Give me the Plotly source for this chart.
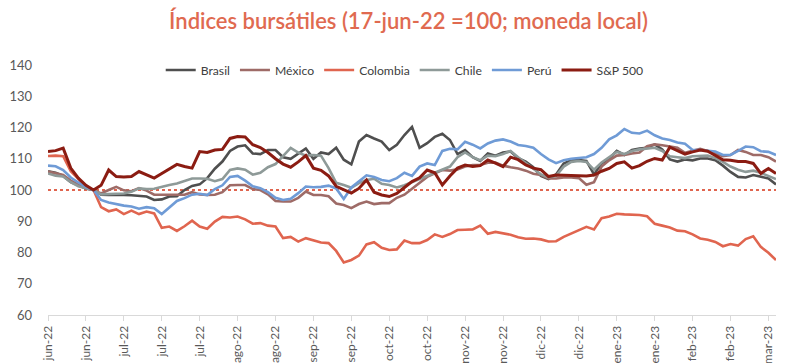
import pandas as pd
import plotly.graph_objects as go

# Fechas (cada 2 días hábiles desde 1-jun-22; 17-jun-22 = índice 6)
dates = [d.strftime("%Y-%m-%d") for d in pd.bdate_range("2022-06-01", periods=193)[::2]]

brasil = [106, 105.5, 104.5, 102.5, 101.5, 100.5, 100, 98.5, 98.4, 98.5,
          98.4, 98.3, 98.2, 97.9, 96.8, 97.0, 97.9, 98, 100, 101.3,
          101.8, 103.8, 106.8, 109.1, 112.5, 113.9, 114.3, 111.7, 111.5, 112.8,
          112.8, 110.5, 110, 111.7, 113.3, 110, 112, 111.5, 113.5, 109.7,
          108.2, 115.5, 117.6, 116.5, 115.5, 112.8, 114.5, 117.6, 120.2, 113.5,
          115, 117, 118, 116, 111.5, 112.8, 110.5, 109.3, 111.7, 111,
          112, 112.3, 110.2, 109.1, 107.3, 104.5, 103.5, 105, 108.5, 109.5,
          109.6, 109.3, 105, 108.5, 110, 112.5, 111.2, 112.8, 113.3, 113.5,
          114.6, 113, 109.8, 109.1, 109.8, 109.5, 110.1, 110.1, 109.5, 107.8,
          105.8, 104.2, 104, 104.8, 104.3, 103.7, 101.8]

mexico = [105.9, 105.3, 104.8, 103, 101.8, 100.5, 100, 98.9, 100, 101,
          99.9, 99.6, 100.6, 99.8, 98.5, 98.5, 98.3, 98.5, 98.5, 99.3,
          98.6, 98.4, 98.5, 99.3, 101.5, 101.6, 101.6, 100.3, 100, 98.6,
          96.5, 96.3, 96.3, 97.5, 99.5, 98.4, 98.4, 98, 95.7, 95.2,
          94.2, 95.5, 96.3, 95.5, 95.8, 95.8, 97.5, 98.5, 100.5, 102.2,
          104.2, 105.3, 106.4, 106.2, 106.6, 107.5, 108, 108, 108.7, 108.8,
          107.8, 107.3, 106.9, 106.2, 105.2, 104.8, 103.7, 103.7, 104, 104,
          103.8, 101.7, 102.5, 107.5, 109.5, 111, 111.2, 111.7, 112, 114,
          114.6, 114.3, 113.9, 113.5, 111.9, 112.5, 113.2, 112.5, 111.7, 110.8,
          111.2, 112.8, 112.2, 111.2, 111.2, 110.5, 109.1]

colombia = [110.9, 111, 110.8, 106, 103.6, 101, 100, 94.5, 93.2, 93.8,
            92.3, 93.4, 92.3, 93.1, 92.5, 87.9, 88.3, 86.9, 88.4, 90.2,
            88.3, 87.6, 89.9, 91.4, 91.2, 91.5, 90.6, 89.2, 89.4, 88.6,
            88.3, 84.6, 85, 83.5, 84.6, 84, 83.2, 83, 80.5, 76.8,
            77.6, 79, 82.6, 83.3, 81.5, 80.8, 81, 83.8, 83, 83,
            84, 85.8, 85, 85.9, 87.2, 87.3, 87.4, 88.6, 86, 86.6,
            86.2, 85.7, 84.9, 84.4, 84.5, 84.2, 83.5, 83.6, 85, 86.1,
            87, 88.2, 87.4, 91, 91.5, 92.4, 92.2, 92.1, 92, 91.6,
            89.2, 88.6, 88, 87, 86.8, 85.8, 84.5, 84.1, 83.4, 82,
            82.7, 82.2, 84.3, 85.2, 81.8, 79.9, 77.6]

chile = [105.3, 104.6, 104.3, 102.5, 101.2, 100.6, 100, 98.6, 98.6, 98.8,
         98.9, 99.4, 100.5, 100.3, 100.4, 101.1, 101.6, 102.1, 103, 103.7,
         103.7, 103.6, 102.8, 103.5, 106.4, 106.9, 106.5, 104.9, 105.5, 107.3,
         108.3, 111, 113.5, 112, 111, 111.2, 111, 107, 102.3, 101.6,
         100.7, 102.2, 103.2, 103.6, 102, 101.6, 100.8, 101.5, 102.5, 103.5,
         104.5, 105.5, 106.5, 107.5, 110.5, 112, 110.5, 109.5, 111, 110.8,
         111.5, 112.5, 110.5, 108.5, 106.8, 105, 104, 104.5, 107.5, 109,
         109.3, 109, 106.5, 108.8, 110.5, 112.2, 111.5, 112.5, 113, 113.2,
         113.5, 112.5, 110.8, 110.5, 110.2, 110.8, 111, 111, 110.2, 109,
         107.5, 106.5, 105.8, 106.2, 105.5, 104.5, 103.5]

peru = [107.8, 107.6, 106.4, 104, 102.4, 101, 100, 96.8, 96, 95.4,
        95, 94.7, 94, 94.5, 94.2, 92.3, 94.5, 96.5, 97.4, 98.5,
        98.8, 98.4, 100.3, 101.5, 104.2, 104.5, 103, 101.2, 100.6, 99.3,
        97.5, 96.8, 97.2, 99, 101.1, 100.9, 101, 101.4, 100.5, 97.1,
        100.8, 102.8, 104.7, 104.2, 103.2, 102.8, 103.8, 105.5, 104.5, 107.5,
        108.5, 108, 112.5, 113.2, 113, 115.4, 114.5, 113.3, 114.9, 115.8,
        116.2, 115.5, 114.4, 114.1, 113.5, 111.5, 109.8, 108.6, 109.5, 110,
        110.2, 110.5, 111.5, 113.5, 116.2, 117.5, 119.5, 118.3, 118.1, 119,
        117.5, 116.5, 116, 115.2, 114.8, 112.8, 112.8, 112.6, 112.3, 111.2,
        111.2, 112.5, 113.9, 113.7, 112.4, 112.2, 111.2]

sp500 = [112.3, 112.6, 113.4, 107, 103.8, 101.5, 100, 101.5, 106.4, 104.3,
         104.2, 104.3, 105.9, 104.8, 103.8, 105.3, 106.8, 108.2, 107.5, 107,
         112.3, 112, 112.8, 113, 116.5, 117.1, 117, 114.5, 113.6, 112,
         110, 108.3, 107.3, 109, 111, 107, 106.3, 104.5, 101.2, 100,
         99, 100.5, 103.2, 99.3, 98.4, 97.9, 98.9, 100.8, 102.7, 103.9,
         106.4, 105.5, 101.6, 104.5, 107, 108, 107.5, 107.8, 109.6, 108.6,
         107.5, 110.5, 109.7, 108, 107, 106.5, 104.3, 104.8, 104.7, 104.6,
         104.6, 104.5, 104.8, 106, 106.9, 108.5, 109, 107, 107.8, 109.2,
         110.1, 109.6, 113.7, 112.5, 111.5, 112.2, 112.8, 112.4, 111, 109.7,
         109.5, 109.1, 109.1, 108.5, 105.3, 106.9, 105.3]

tick_labels = ["jun-22", "jun-22", "jul-22", "jul-22", "jul-22", "ago-22", "ago-22",
               "sep-22", "sep-22", "oct-22", "oct-22", "nov-22", "nov-22", "dic-22",
               "dic-22", "ene-23", "ene-23", "feb-23", "feb-23", "mar-23"]
tick_vals = dates[::5][:len(tick_labels)]

series = [
    ("Brasil", brasil, "#4F4F4F", 2.6),
    ("México", mexico, "#9E6B67", 2.6),
    ("Colombia", colombia, "#E0654F", 2.6),
    ("Chile", chile, "#8E9A98", 2.6),
    ("Perú", peru, "#6F9BD6", 2.6),
    ("S&P 500", sp500, "#8B1C12", 3.0),
]

fig = go.Figure()
for name, vals, color, w in series:
    fig.add_trace(go.Scatter(x=dates, y=vals, name=name, mode="lines",
                             line=dict(color=color, width=w)))

fig.add_shape(type="line", xref="paper", x0=0, x1=1, yref="y", y0=100, y1=100,
              line=dict(color="#E0654F", width=2, dash="dot"), layer="below")

fig.update_layout(
    width=801, height=363,
    margin=dict(l=48, r=25, t=65, b=48, autoexpand=False),
    paper_bgcolor="white", plot_bgcolor="white",
    title=dict(text="Índices bursátiles (17-jun-22 =100; moneda local)",
               x=0.51, xanchor="center", y=0.94, yanchor="middle",
               font=dict(family="Lato", size=22, color="#E06A50", weight=600)),
    legend=dict(orientation="h", x=0.49, xanchor="center", y=0.98, yanchor="middle",
                font=dict(family="Lato", size=12.2, color="#404040"),
                bgcolor="rgba(0,0,0,0)", itemwidth=30, tracegroupgap=0),
    showlegend=True,
    font=dict(family="Lato", color="#595959"),
)
fig.update_xaxes(type="category", range=[0, 96], showgrid=False, zeroline=False,
                 showline=True, linecolor="#D9D9D9", linewidth=1,
                 ticks="outside", ticklen=5, tickcolor="#D9D9D9",
                 tickvals=tick_vals, ticktext=tick_labels, tickangle=-90,
                 tickfont=dict(family="Lato", size=12, color="#595959"))
fig.update_yaxes(range=[60, 140], tickvals=list(range(60, 141, 10)), showgrid=False,
                 zeroline=False, showline=False, ticklabelstandoff=15,
                 tickfont=dict(family="Lato", size=13, color="#595959"))

fig.write_html("out.html", config={"displayModeBar": False},
               post_script="document.body.style.margin='0';document.body.style.overflow='hidden';")
